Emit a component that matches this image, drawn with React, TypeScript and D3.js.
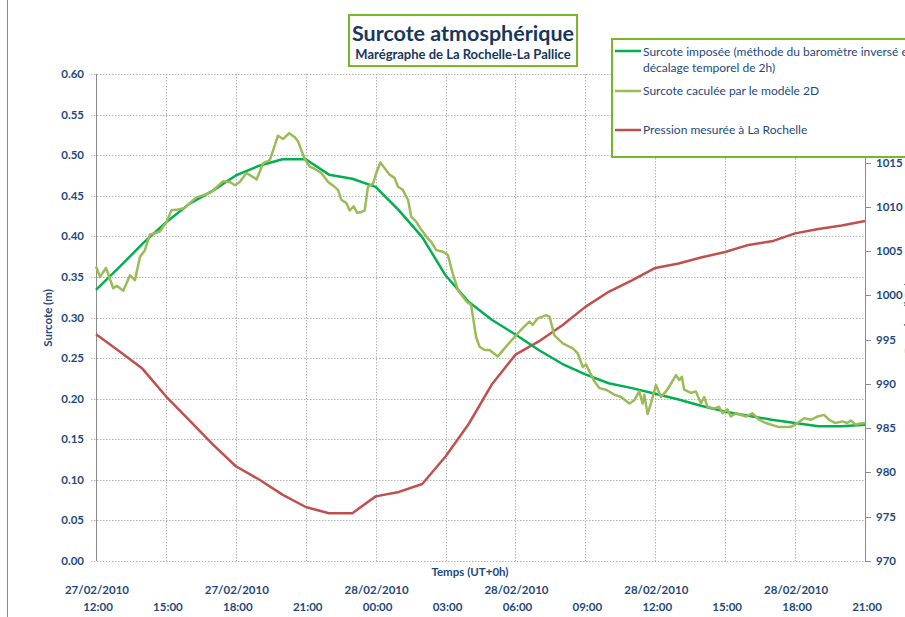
import React from 'react';
import * as d3 from 'd3';

// hours since 27/02/2010 12:00 UT
const hours = d3.range(0, 34);

// Surcote imposée (m), hourly
const surcoteImposee = [
  0.334, 0.362, 0.391, 0.417, 0.440, 0.456, 0.475, 0.487, 0.495, 0.495,
  0.476, 0.471, 0.461, 0.432, 0.399, 0.352, 0.319, 0.297, 0.279, 0.260,
  0.243, 0.230, 0.219, 0.213, 0.206, 0.199, 0.191, 0.184, 0.179, 0.174,
  0.170, 0.166, 0.166, 0.168,
];

// Pression mesurée (hPa), hourly
const pression = [
  995.6, 993.7, 991.7, 988.6, 985.9, 983.2, 980.7, 979.2, 977.5, 976.1,
  975.4, 975.4, 977.3, 977.8, 978.7, 981.8, 985.5, 990.0, 993.3, 994.8,
  996.6, 998.7, 1000.4, 1001.7, 1003.1, 1003.6, 1004.3, 1004.9, 1005.7, 1006.1,
  1007.0, 1007.5, 1007.9, 1008.4,
];

// Surcote calculée par le modèle 2D: [heure, m]
const surcoteModele: [number, number][] = [
  [0.00, 0.363], [0.17, 0.350], [0.43, 0.361], [0.74, 0.336], [0.89, 0.339], [1.17, 0.333],
  [1.46, 0.352], [1.67, 0.346], [1.89, 0.375], [2.10, 0.383], [2.31, 0.402], [2.74, 0.406],
  [3.03, 0.418], [3.24, 0.432], [3.53, 0.433], [3.81, 0.435], [4.03, 0.441], [4.31, 0.448],
  [4.74, 0.452], [4.96, 0.455], [5.46, 0.468], [5.74, 0.467], [5.96, 0.463], [6.17, 0.467],
  [6.46, 0.478], [6.74, 0.473], [6.89, 0.470], [7.17, 0.490], [7.46, 0.494], [7.81, 0.524],
  [8.03, 0.520], [8.29, 0.527], [8.53, 0.522], [8.67, 0.517], [8.96, 0.495], [9.17, 0.486],
  [9.39, 0.483], [9.67, 0.478], [9.96, 0.467], [10.24, 0.461], [10.39, 0.457], [10.53, 0.445],
  [10.74, 0.441], [10.89, 0.432], [11.06, 0.437], [11.20, 0.429], [11.39, 0.430], [11.53, 0.432],
  [11.67, 0.461], [11.89, 0.465], [12.03, 0.478], [12.20, 0.491], [12.39, 0.484], [12.60, 0.476],
  [12.81, 0.472], [12.96, 0.461], [13.17, 0.457], [13.39, 0.445], [13.53, 0.424], [13.74, 0.418],
  [13.96, 0.408], [14.17, 0.400], [14.39, 0.393], [14.60, 0.383], [14.89, 0.381], [15.10, 0.377],
  [15.31, 0.354], [15.53, 0.334], [15.89, 0.320], [16.10, 0.315], [16.31, 0.276], [16.46, 0.264],
  [16.67, 0.260], [16.89, 0.260], [17.24, 0.252], [17.53, 0.262], [17.96, 0.276], [18.31, 0.287],
  [18.60, 0.295], [18.74, 0.291], [18.96, 0.299], [19.31, 0.303], [19.46, 0.301], [19.67, 0.278],
  [20.03, 0.268], [20.46, 0.262], [20.67, 0.256], [20.89, 0.239], [21.03, 0.242], [21.39, 0.221],
  [21.60, 0.213], [21.89, 0.211], [22.24, 0.205], [22.53, 0.202], [22.89, 0.194], [23.10, 0.198],
  [23.31, 0.209], [23.46, 0.194], [23.53, 0.205], [23.67, 0.181], [23.81, 0.194], [24.03, 0.217],
  [24.24, 0.202], [24.46, 0.209], [24.60, 0.215], [24.89, 0.229], [25.03, 0.223], [25.14, 0.227],
  [25.24, 0.211], [25.53, 0.207], [25.74, 0.209], [25.96, 0.194], [26.10, 0.202], [26.24, 0.190],
  [26.53, 0.188], [26.74, 0.190], [26.89, 0.182], [27.10, 0.187], [27.24, 0.178], [27.46, 0.182],
  [27.89, 0.178], [28.17, 0.182], [28.46, 0.174], [28.74, 0.170], [29.31, 0.165], [29.81, 0.165],
  [30.10, 0.170], [30.39, 0.176], [30.67, 0.174], [30.96, 0.178], [31.24, 0.180], [31.46, 0.174],
  [31.74, 0.170], [32.03, 0.172], [32.24, 0.170], [32.39, 0.173], [32.60, 0.168], [32.74, 0.169],
  [33.00, 0.170],
];

const leftTicks = [0, 0.05, 0.1, 0.15, 0.2, 0.25, 0.3, 0.35, 0.4, 0.45, 0.5, 0.55, 0.6];
const rightTicks = [970, 975, 980, 985, 990, 995, 1000, 1005, 1010, 1015, 1020, 1025];
const timeTicks = [0, 3, 6, 9, 12, 15, 18, 21, 24, 27, 30, 33];
const timeLabels = ['12:00', '15:00', '18:00', '21:00', '00:00', '03:00', '06:00', '09:00', '12:00', '15:00', '18:00', '21:00'];
const dateLabels = ['27/02/2010', '', '27/02/2010', '', '28/02/2010', '', '28/02/2010', '', '28/02/2010', '', '28/02/2010', ''];

const GREEN = '#00B050';
const OLIVE = '#9BBB59';
const RED = '#C0504D';
const TEXT = '#1F497D';
const FRAME = '#77B82A';
const FONT = 'Lato, "Open Sans", sans-serif';

export default function App() {
  const W = 905, H = 617;
  const x = d3.scaleLinear().domain([0, 33]).range([96, 865]);
  const yL = d3.scaleLinear().domain([0, 0.6]).range([561, 74]);
  const yR = d3.scaleLinear().domain([970, 1025]).range([561, 74]);

  const lineL = d3.line<[number, number]>().x(d => x(d[0])).y(d => yL(d[1]));
  const lineR = d3.line<[number, number]>().x(d => x(d[0])).y(d => yR(d[1]));

  const imposee = hours.map((h, i) => [h, surcoteImposee[i]] as [number, number]);
  const press = hours.map((h, i) => [h, pression[i]] as [number, number]);

  return (
    <div style={{ position: 'absolute', left: 0, top: 0 }}>
      <svg width={W} height={H} style={{ display: 'block', background: '#fff', fontFamily: FONT }}>
        <rect x={0} y={0} width={W} height={H} fill="#fff" />
        <line x1={7.5} x2={7.5} y1={0} y2={H} stroke="#8c8c8c" strokeWidth={1} />

        {/* horizontal gridlines */}
        {leftTicks.map(t => (
          <line key={'h' + t} x1={91} x2={865} y1={Math.round(yL(t)) + 0.5} y2={Math.round(yL(t)) + 0.5}
            stroke="#b4b4b4" strokeWidth={1} strokeDasharray="1.5,1.5" />
        ))}
        {/* vertical gridlines */}
        {timeTicks.slice(1, -1).map(t => (
          <line key={'v' + t} x1={Math.round(x(t)) + 0.5} x2={Math.round(x(t)) + 0.5} y1={74} y2={561}
            stroke="#b4b4b4" strokeWidth={1} strokeDasharray="1.5,1.5" />
        ))}

        {/* axes */}
        <line x1={96.5} x2={96.5} y1={74} y2={561} stroke="#8c8c8c" />
        <line x1={865.5} x2={865.5} y1={74} y2={561} stroke="#8c8c8c" />
        {rightTicks.map(t => (
          <line key={'rt' + t} x1={865} x2={871} y1={Math.round(yR(t)) + 0.5} y2={Math.round(yR(t)) + 0.5} stroke="#8c8c8c" />
        ))}

        {leftTicks.map(t => (
          <text key={'lt' + t} x={84} y={yL(t)} dy="0.35em" textAnchor="end" fontSize={11.5} fontWeight="bold" fill={TEXT}>
            {t.toFixed(2)}
          </text>
        ))}
        {rightTicks.map(t => (
          <text key={'rl' + t} x={876} y={yR(t)} dy="0.35em" textAnchor="start" fontSize={11.5} fontWeight="bold" fill={TEXT}>
            {t}
          </text>
        ))}
        {timeTicks.map((t, i) => (
          <g key={'tt' + t}>
            {dateLabels[i] && (
              <text x={x(t) + 1} y={594} textAnchor="middle" fontSize={11.5} fontWeight="bold" fill={TEXT}>{dateLabels[i]}</text>
            )}
            <text x={x(t) + 2} y={611} textAnchor="middle" fontSize={11.5} fontWeight="bold" fill={TEXT}>{timeLabels[i]}</text>
          </g>
        ))}

        <text transform="translate(52,318) rotate(-90)" textAnchor="middle" fontSize={11.5} fontWeight="bold" fill={TEXT}>Surcote (m)</text>
        <text x={470} y={576} textAnchor="middle" fontSize={11.5} fontWeight="bold" fill={TEXT}>Temps (UT+0h)</text>
        <text transform="translate(913,318) rotate(-90)" textAnchor="middle" fontSize={11.5} fontWeight="bold" fill={TEXT}>Pression (hPa)</text>

        {/* series */}
        <path d={lineR(press) || ''} fill="none" stroke={RED} strokeWidth={2.5} strokeLinejoin="round" />
        <path d={lineL(imposee) || ''} fill="none" stroke={GREEN} strokeWidth={2.5} strokeLinejoin="round" />
        <path d={lineL(surcoteModele) || ''} fill="none" stroke={OLIVE} strokeWidth={2.5} strokeLinejoin="round" />

        {/* title */}
        <rect x={349} y={15} width={228} height={51} fill="#fff" stroke={FRAME} strokeWidth={2} />
        <text x={463} y={41} textAnchor="middle" fontSize={21.5} fontWeight="bold" fill="#17375E">Surcote atmosphérique</text>
        <text x={463} y={59} textAnchor="middle" fontSize={13} fontWeight="bold" fill="#17375E">Marégraphe de La Rochelle-La Pallice</text>

        {/* legend */}
        <rect x={612} y={39} width={310} height={118} fill="#fff" stroke={FRAME} strokeWidth={2} />
        <line x1={615} x2={641} y1={51} y2={51} stroke={GREEN} strokeWidth={2.5} />
        <text x={643} y={56} fontSize={12} fill={TEXT}>Surcote imposée (méthode du baromètre inversé et</text>
        <text x={643} y={72} fontSize={12} fill={TEXT}>décalage temporel de 2h)</text>
        <line x1={615} x2={641} y1={91} y2={91} stroke={OLIVE} strokeWidth={2.5} />
        <text x={643} y={95} fontSize={12} fill={TEXT}>Surcote caculée par le modèle 2D</text>
        <line x1={615} x2={641} y1={130} y2={130} stroke={RED} strokeWidth={2.5} />
        <text x={643} y={134} fontSize={12} fill={TEXT}>Pression mesurée à La Rochelle</text>
      </svg>
    </div>
  );
}
